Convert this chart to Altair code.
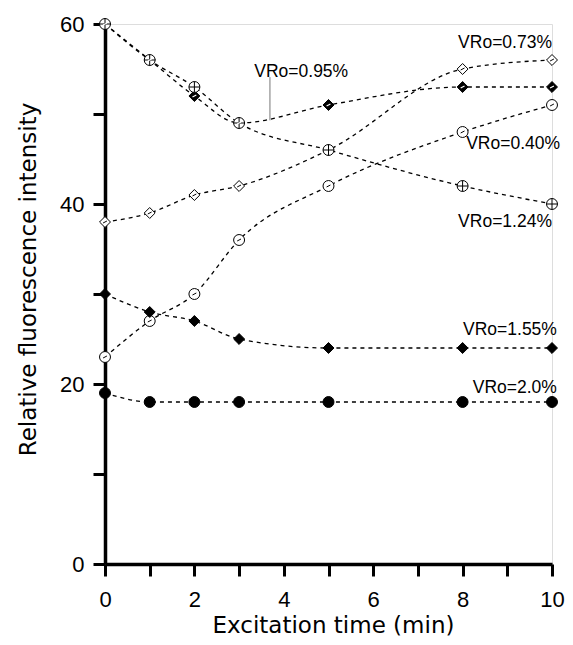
import altair as alt
import pandas as pd

# ---- data ----
times = [0, 1, 2, 3, 5, 8, 10]
series_names = ["VRo=0.73%", "VRo=0.95%", "VRo=0.40%", "VRo=1.24%", "VRo=1.55%", "VRo=2.0%"]
v073 = [38, 39, 41, 42, 46, 55, 56]
v095 = [60, 56, 52, 49, 51, 53, 53]
v040 = [23, 27, 30, 36, 42, 48, 51]
v124 = [60, 56, 53, 49, 46, 42, 40]
v155 = [30, 28, 27, 25, 24, 24, 24]
v20 = [19, 18, 18, 18, 18, 18, 18]
series_values = [v073, v095, v040, v124, v155, v20]

# annotation anchors (data units): right end of each label text
label_x = [10.0, 5.44, 10.18, 10.0, 10.11, 10.11]
label_y = [57.9, 54.7, 46.7, 38.0, 26.0, 19.6]
leader_x = [3.69]
leader_y = [54.1]
leader_y2 = [49.3]

rows = []
for name, vals in zip(series_names, series_values):
    for t, v in zip(times, vals):
        rows.append({"series": name, "t": t, "v": v})
df = pd.DataFrame(rows)
lab = pd.DataFrame({"series": series_names, "x": label_x, "y": label_y})
lead = pd.DataFrame({"x": leader_x, "y": leader_y, "y2": leader_y2})

circle = "M-1,0A1,1,0,1,1,1,0A1,1,0,1,1,-1,0Z"
diamond = "M0,-1L1,0L0,1L-1,0Z"
dash = "M-0.35,0.18L0.35,-0.18"
shapes = [diamond + dash, diamond, circle + dash, circle + "M-1,0L1,0M0,-1L0,1", diamond, "circle"]
fills = ["white", "black", "white", "white", "black", "black"]
sizes = [120, 120, 140, 110, 160, 135]

xscale = alt.Scale(domain=[0, 10], nice=False, zero=False)
yscale = alt.Scale(domain=[0, 60], nice=False)

xaxis = alt.Axis(
    values=list(range(11)),
    labelExpr="datum.value % 2 == 0 ? datum.label : ''",
    grid=False, domainColor="black", domainWidth=3.5, tickColor="black",
    tickWidth=3, tickSize=12, labelFont="Liberation Sans", labelFontSize=22,
    labelColor="black", labelPadding=13, labelFlush=False,
    title="Excitation time (min)", titleFont="DejaVu Sans", titleFontSize=23,
    titleFontWeight="normal", titleColor="black", titleX=228, titleY=61,
    titleBaseline="middle", titleAlign="center",
)
yaxis = alt.Axis(
    values=[0, 10, 20, 30, 40, 50, 60],
    labelExpr="datum.value % 20 == 0 ? datum.label : ''",
    grid=False, domainColor="black", domainWidth=3.5, tickColor="black",
    tickWidth=3, tickSize=12, labelFont="Liberation Sans", labelFontSize=22,
    labelColor="black", labelPadding=9, labelFlush=False,
    title="Relative fluorescence intensity", titleFont="DejaVu Sans",
    titleFontSize=23, titleFontWeight="normal", titleColor="black",
    titleAngle=-90, titleX=-77, titleY=255, titleBaseline="middle",
    titleAlign="center",
)

base = alt.Chart(df)
lines = base.mark_line(
    color="black", strokeWidth=1.3, strokeDash=[4, 4], interpolate="monotone"
).encode(
    x=alt.X("t:Q", scale=xscale, axis=xaxis),
    y=alt.Y("v:Q", scale=yscale, axis=yaxis),
    detail="series:N",
)
points = base.mark_point(stroke="black", strokeWidth=1, opacity=1).encode(
    x=alt.X("t:Q", scale=xscale),
    y=alt.Y("v:Q", scale=yscale),
    shape=alt.Shape("series:N", scale=alt.Scale(domain=series_names, range=shapes), legend=None),
    fill=alt.Fill("series:N", scale=alt.Scale(domain=series_names, range=fills), legend=None),
    size=alt.Size("series:N", scale=alt.Scale(domain=series_names, range=sizes), legend=None),
)
inner = base.transform_filter(alt.datum.series == "VRo=0.95%").mark_point(
    shape=dash, stroke="white", strokeWidth=1.2, size=120, opacity=1
).encode(x=alt.X("t:Q", scale=xscale), y=alt.Y("v:Q", scale=yscale))

texts = alt.Chart(lab).mark_text(
    align="right", baseline="middle", font="Liberation Sans", fontSize=17.5, color="black"
).encode(x=alt.X("x:Q", scale=xscale), y=alt.Y("y:Q", scale=yscale), text="series:N")

leader = alt.Chart(lead).mark_rule(color="#777777", strokeWidth=1).encode(
    x=alt.X("x:Q", scale=xscale), y=alt.Y("y:Q", scale=yscale), y2="y2:Q"
)

chart = alt.layer(lines, leader, points, inner, texts).properties(
    width=447, height=540,
    autosize=alt.AutoSizeParams(type="none"),
    padding={"left": 97, "top": 16, "right": 13, "bottom": 73},
).configure_view(stroke=None).configure(background="white")

chart.save("out.html", embed_options={"renderer": "svg", "actions": False})
